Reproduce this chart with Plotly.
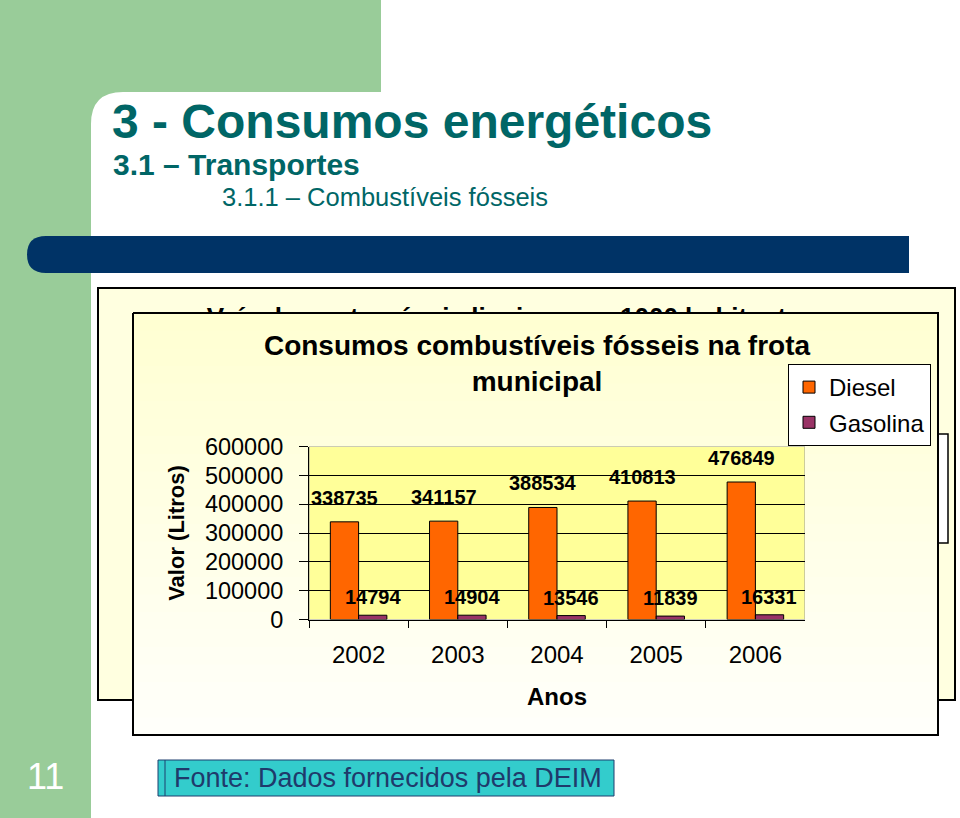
import plotly.graph_objects as go

# ---------------- data ----------------
years = ["2002", "2003", "2004", "2005", "2006"]
diesel = [338735, 341157, 388534, 410813, 476849]
gasolina = [14794, 14904, 13546, 11839, 16331]
y_tick_values = [0, 100000, 200000, 300000, 400000, 500000, 600000]

chart_title = "<b>Consumos combustíveis fósseis na frota<br>municipal</b>"
back_title = "<b>Veículos automóveis ligeiros por 1000 habitantes</b>"
y_title = "<b>Valor (Litros)</b>"
x_title = "<b>Anos</b>"
slide_title = "<b>3 - Consumos energéticos</b>"
slide_sub1 = "<b>3.1 – Transportes</b>"
slide_sub2 = "3.1.1 – Combustíveis fósseis"
slide_number = "11"
source_text = "Fonte: Dados fornecidos pela DEIM"

W, H = 960, 818
FONT = "Liberation Sans, Arial, Helvetica, sans-serif"
GREEN = "#99CC99"
NAVY = "#003366"
TEAL = "#006666"

fig = go.Figure()

# ---------- background (subplot 1, pixel coordinates) ----------
fig.add_trace(go.Scatter(
    x=[511], y=[319], mode="text", text=[back_title],
    textfont=dict(family=FONT, size=26, color="black"),
    xaxis="x", yaxis="y", showlegend=False, hoverinfo="skip", cliponaxis=False))

# inner chart box with vertical gradient (drawn as stacked bands)
top_c = (255, 255, 210)
bot_c = (255, 255, 250)
y0b, y1b = 313, 735
nb = 24
for i in range(nb):
    a = y0b + (y1b - y0b) * i / nb
    b = y0b + (y1b - y0b) * (i + 1) / nb + 0.8
    t = i / (nb - 1)
    col = "rgb(%d,%d,%d)" % tuple(round(top_c[k] + (bot_c[k] - top_c[k]) * t) for k in range(3))
    fig.add_trace(go.Scatter(
        x=[133, 938, 938, 133, 133], y=[a, a, b, b, a], mode="lines",
        fill="toself", fillcolor=col, line=dict(width=0, color=col),
        xaxis="x", yaxis="y", showlegend=False, hoverinfo="skip"))
fig.add_trace(go.Scatter(
    x=[133, 938, 938, 133, 133], y=[313, 313, 735, 735, 313], mode="lines",
    line=dict(color="black", width=2), xaxis="x", yaxis="y",
    showlegend=False, hoverinfo="skip"))

# ---------- the bar chart (subplot 2) ----------
fig.add_trace(go.Bar(
    x=years, y=diesel, name="Diesel", legendgroup="d",
    marker=dict(color="#FF6600", line=dict(color="black", width=1)),
    xaxis="x2", yaxis="y2", hoverinfo="skip"))
fig.add_trace(go.Bar(
    x=years, y=gasolina, name="Gasolina", legendgroup="g",
    marker=dict(color="#993366", line=dict(color="black", width=1)),
    xaxis="x2", yaxis="y2", hoverinfo="skip"))

shapes = [
    dict(type="rect", xref="x", yref="y", x0=0, x1=381, y0=0, y1=92,
         fillcolor=GREEN, line=dict(width=0), layer="below"),
    dict(type="rect", xref="x", yref="y", x0=0, x1=91, y0=0, y1=818,
         fillcolor=GREEN, line=dict(width=0), layer="below"),
    dict(type="path", xref="x", yref="y", path="M91,92 L123,92 Q91,92 91,124 Z",
         fillcolor=GREEN, line=dict(width=0), layer="below"),
    dict(type="path", xref="x", yref="y",
         path="M46,236 L909,236 L909,273 L46,273 Q27,273 27,254.5 Q27,236 46,236 Z",
         fillcolor=NAVY, line=dict(width=0), layer="below"),
    dict(type="rect", xref="x", yref="y", x0=98, x1=955, y0=288, y1=700,
         fillcolor="#FFFFE0", line=dict(color="black", width=2), layer="below"),
    dict(type="rect", xref="x", yref="y", x0=925, x1=948, y0=434, y1=543,
         fillcolor="white", line=dict(color="black", width=1.5), layer="below"),
    dict(type="rect", xref="x", yref="y", x0=158, x1=614, y0=760, y1=796,
         fillcolor="#33CCCC", line=dict(color="#1F3F6F", width=1), layer="below"),
    dict(type="line", xref="x", yref="y", x0=165, x1=165, y0=760, y1=796,
         line=dict(color="#1F3F6F", width=1), layer="below"),
    # plot area of the bar chart (category index space)
    dict(type="rect", xref="x2", yref="y2", x0=-0.5, x1=len(years) - 0.5, y0=0, y1=600000,
         fillcolor="#FFFF99", line=dict(color="#9a9a9a", width=1), layer="below"),
]

annotations = [
    dict(text=slide_title, xref="x", yref="y", x=110, y=121, xanchor="left",
         yanchor="middle", showarrow=False, font=dict(family=FONT, size=48, color=TEAL)),
    dict(text=slide_sub1, xref="x", yref="y", x=111, y=164, xanchor="left",
         yanchor="middle", showarrow=False, font=dict(family=FONT, size=30, color=TEAL)),
    dict(text=slide_sub2, xref="x", yref="y", x=220, y=197, xanchor="left",
         yanchor="middle", showarrow=False, font=dict(family=FONT, size=25.5, color=TEAL)),
    dict(text=slide_number, xref="x", yref="y", x=45, y=776, xanchor="center",
         yanchor="middle", showarrow=False, font=dict(family=FONT, size=36, color="white")),
    dict(text=source_text, xref="x", yref="y", x=172, y=778, xanchor="left",
         yanchor="middle", showarrow=False, font=dict(family=FONT, size=27, color="#1F3A6B")),
]
for i, v in enumerate(diesel):
    annotations.append(dict(text="<b>%d</b>" % v, xref="x2", yref="y2", x=i, y=v,
                            xshift=-14, yshift=24, yanchor="middle", showarrow=False,
                            font=dict(family=FONT, size=20, color="black")))
for i, v in enumerate(gasolina):
    annotations.append(dict(text="<b>%d</b>" % v, xref="x2", yref="y2", x=i, y=v,
                            xshift=14, yshift=18, yanchor="middle", showarrow=False,
                            font=dict(family=FONT, size=20, color="black")))

fig.update_layout(
    width=W, height=H, margin=dict(l=0, r=0, t=0, b=0, pad=0, autoexpand=False),
    paper_bgcolor="white", plot_bgcolor="rgba(0,0,0,0)",
    barmode="group", bargap=0.43, bargroupgap=0,
    font=dict(family=FONT, color="black"),
    title=dict(text=chart_title, x=537 / W, y=1 - 355 / H, xanchor="center",
               yanchor="middle", xref="paper", yref="paper",
               font=dict(family=FONT, size=28, color="black")),
    xaxis=dict(domain=[0, 1], range=[0, W], visible=False, fixedrange=True,
               anchor="y", automargin=False),
    yaxis=dict(domain=[0, 1], range=[H, 0], visible=False, fixedrange=True,
               anchor="x", automargin=False),
    xaxis2=dict(domain=[309 / W, 805 / W], anchor="y2", type="category",
                range=[-0.5, len(years) - 0.5], automargin=False,
                showline=True, linecolor="black", linewidth=1,
                ticks="outside", tickson="boundaries", ticklen=7, tickcolor="black",
                ticklabelstandoff=14, showgrid=False, tickangle=0,
                tickfont=dict(family=FONT, size=24, color="black"),
                title=dict(text=x_title, font=dict(family=FONT, size=24, color="black"),
                           standoff=20),
                fixedrange=True),
    yaxis2=dict(domain=[1 - 619.5 / H, 1 - 446.5 / H], anchor="x2", automargin=False,
                range=[0, 600000], tickvals=y_tick_values, tickformat="d",
                showline=True, linecolor="black", linewidth=1,
                ticks="outside", ticklen=9, tickcolor="black", ticklabelstandoff=11,
                showgrid=True, gridcolor="black", gridwidth=1, zeroline=False,
                tickfont=dict(family=FONT, size=23.5, color="black"),
                title=dict(text=y_title, font=dict(family=FONT, size=22, color="black"),
                           standoff=14),
                fixedrange=True),
    legend=dict(x=788 / W, y=1 - 364 / H, xanchor="left", yanchor="top",
                bgcolor="white", bordercolor="black", borderwidth=1,
                font=dict(family=FONT, size=24, color="black"),
                traceorder="grouped", tracegroupgap=1),
    shapes=shapes, annotations=annotations,
)

fig.write_html("out.html")
